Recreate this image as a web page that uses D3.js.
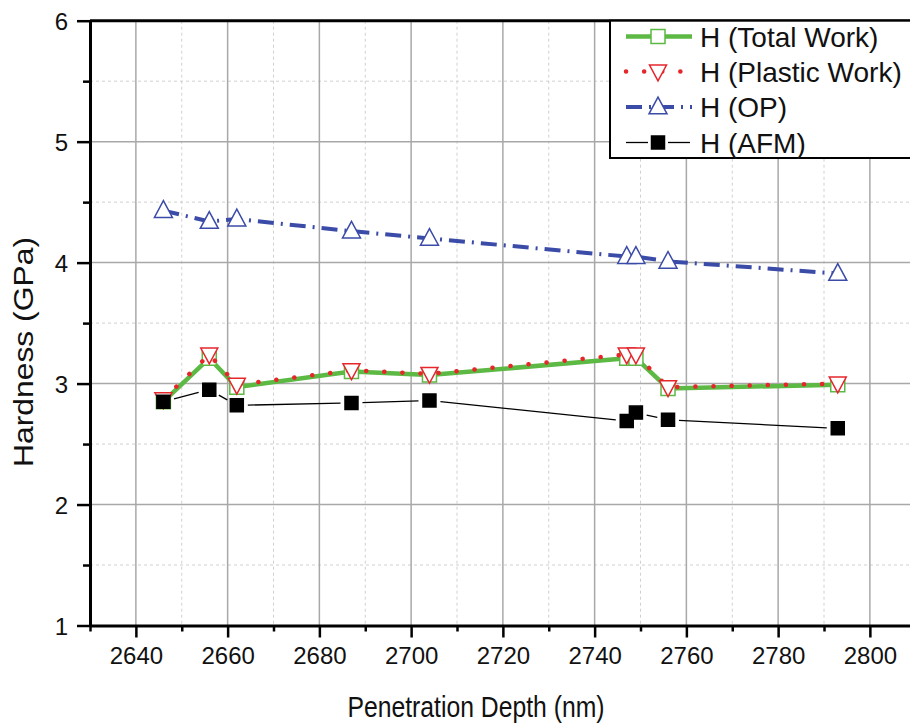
<!DOCTYPE html>
<html>
<head>
<meta charset="utf-8">
<script src="https://cdn.jsdelivr.net/npm/d3@7"></script>
<style>
  html, body { margin: 0; padding: 0; background: #fff; }
  svg { display: block; font-family: "Liberation Sans", Arial, sans-serif; }
</style>
</head>
<body>
<div id="chart"></div>
<script>
// data
const depth = [2646, 2656, 2662, 2687, 2704, 2747, 2749, 2756, 2793];
const hTotalWork = [2.85, 3.21, 2.97, 3.10, 3.07, 3.21, 3.21, 2.96, 2.99];
const hPlasticWork = [2.87, 3.24, 2.99, 3.11, 3.08, 3.24, 3.24, 2.97, 3.00];
const hOP = [4.43, 4.34, 4.36, 4.26, 4.20, 4.05, 4.05, 4.01, 3.91];
const hAFM = [2.85, 2.95, 2.82, 2.84, 2.86, 2.69, 2.76, 2.70, 2.63];

const xMajorTicks = [2640, 2660, 2680, 2700, 2720, 2740, 2760, 2780, 2800];
const xMinorTicks = [2630, 2650, 2670, 2690, 2710, 2730, 2750, 2770, 2790, 2810];
const yMajorTicks = [1, 2, 3, 4, 5, 6];
const yMinorTicks = [1.5, 2.5, 3.5, 4.5, 5.5];

const width = 910, height = 723;
const margin = { left: 90, top: 20.7, bottom: 97.5 };

const svg = d3.select('#chart')
  .append('svg')
  .attr('width', width)
  .attr('height', height);

// x axis runs a bit past the right edge (picture is cropped there)
const x = d3.scaleLinear()
  .domain([2630, 2810])
  .range([margin.left, margin.left + 180 * 4.5875]);

const y = d3.scaleLinear()
  .domain([1, 6])
  .range([height - margin.bottom, margin.top]);

const plotBottom = y(1), plotTop = y(6);

// grid
const grid = svg.append('g').attr('class', 'grid');
grid.selectAll('.gx-minor')
  .data(xMinorTicks)
  .enter().append('line')
  .attr('x1', d => x(d)).attr('x2', d => x(d))
  .attr('y1', plotTop).attr('y2', plotBottom)
  .attr('stroke', '#d0d0d0').attr('stroke-width', 1)
  .attr('stroke-dasharray', '3,3');
grid.selectAll('.gy-minor')
  .data(yMinorTicks)
  .enter().append('line')
  .attr('x1', margin.left).attr('x2', width)
  .attr('y1', d => y(d)).attr('y2', d => y(d))
  .attr('stroke', '#d0d0d0').attr('stroke-width', 1)
  .attr('stroke-dasharray', '3,3');
grid.selectAll('.gx-major')
  .data(xMajorTicks)
  .enter().append('line')
  .attr('x1', d => x(d)).attr('x2', d => x(d))
  .attr('y1', plotTop).attr('y2', plotBottom)
  .attr('stroke', '#a8a8a8').attr('stroke-width', 1.5);
grid.selectAll('.gy-major')
  .data(yMajorTicks.filter(d => d > 1 && d < 6))
  .enter().append('line')
  .attr('x1', margin.left).attr('x2', width)
  .attr('y1', d => y(d)).attr('y2', d => y(d))
  .attr('stroke', '#a8a8a8').attr('stroke-width', 1.5);

// top frame
svg.append('line')
  .attr('x1', margin.left).attr('x2', width)
  .attr('y1', plotTop).attr('y2', plotTop)
  .attr('stroke', '#000').attr('stroke-width', 3);

// axes
const xMinorAxis = d3.axisBottom(x).tickValues(xMinorTicks).tickSize(6).tickFormat('');
const xAxis = d3.axisBottom(x).tickValues(xMajorTicks).tickSize(12).tickPadding(9)
  .tickSizeOuter(0).tickFormat(d3.format('d'));
const yMinorAxis = d3.axisLeft(y).tickValues(yMinorTicks).tickSize(7).tickFormat('');
const yAxis = d3.axisLeft(y).tickValues(yMajorTicks).tickSize(13).tickPadding(9)
  .tickSizeOuter(0).tickFormat(d3.format('d'));

function styleAxis(g) {
  g.select('.domain').attr('stroke-width', 3);
  g.selectAll('.tick line').attr('stroke-width', 2.5);
  g.selectAll('.tick text')
    .attr('fill', '#111')
    .style('font-size', '24px')
    .style('font-family', '"Liberation Sans", Arial, sans-serif');
}

svg.append('g').attr('transform', `translate(0,${plotBottom})`).call(xMinorAxis).call(styleAxis)
  .select('.domain').remove();
svg.append('g').attr('transform', `translate(${margin.left},0)`).call(yMinorAxis).call(styleAxis)
  .select('.domain').remove();
svg.append('g').attr('transform', `translate(0,${plotBottom})`).call(xAxis).call(styleAxis);
svg.append('g').attr('transform', `translate(${margin.left},0)`).call(yAxis).call(styleAxis)
  .selectAll('.tick text').attr('dy', '0.36em');

// axis titles
svg.append('text')
  .attr('x', 476)
  .attr('y', 717)
  .attr('text-anchor', 'middle')
  .attr('textLength', 257)
  .attr('lengthAdjust', 'spacingAndGlyphs')
  .style('font-size', '30px')
  .attr('fill', '#111')
  .text('Penetration Depth (nm)');

svg.append('text')
  .attr('transform', `translate(33,${352}) rotate(-90)`)
  .attr('text-anchor', 'middle')
  .attr('textLength', 230)
  .attr('lengthAdjust', 'spacingAndGlyphs')
  .style('font-size', '27px')
  .attr('fill', '#111')
  .text('Hardness (GPa)');

// series
const colors = {
  total: '#5cb944',
  plastic: '#e5262b',
  op: '#3b4ba8',
  afm: '#000'
};

const pts = vals => depth.map((d, i) => [d, vals[i]]);
const line = d3.line().x(d => x(d[0])).y(d => y(d[1]));

const triUp = s => `M0,${-s * 0.55}L${s / 2},${s * 0.38}L${-s / 2},${s * 0.38}Z`;
const triDown = s => `M0,${s * 0.55}L${s / 2},${-s * 0.38}L${-s / 2},${-s * 0.38}Z`;
const square = s => `M${-s / 2},${-s / 2}H${s / 2}V${s / 2}H${-s / 2}Z`;

const plot = svg.append('g').attr('class', 'plot');

function drawSeries(vals, opt) {
  const g = plot.append('g');
  const data = pts(vals);
  if (opt.gap) {
    // Origin-style gaps between line and markers
    for (let i = 0; i < data.length - 1; i++) {
      const x0 = x(data[i][0]), y0 = y(data[i][1]);
      const x1 = x(data[i + 1][0]), y1 = y(data[i + 1][1]);
      const len = Math.hypot(x1 - x0, y1 - y0);
      if (len <= opt.gap * 2) continue;
      const ux = (x1 - x0) / len, uy = (y1 - y0) / len;
      g.append('line')
        .attr('x1', x0 + ux * opt.gap).attr('y1', y0 + uy * opt.gap)
        .attr('x2', x1 - ux * opt.gap).attr('y2', y1 - uy * opt.gap)
        .attr('stroke', opt.color).attr('stroke-width', opt.width);
    }
  } else {
    g.append('path')
      .attr('d', line(data))
      .attr('fill', 'none')
      .attr('stroke', opt.color)
      .attr('stroke-width', opt.width)
      .attr('stroke-linecap', opt.cap || 'butt')
      .attr('stroke-dasharray', opt.dash || null);
  }
  g.selectAll('.marker')
    .data(data)
    .enter().append('path')
    .attr('transform', d => `translate(${x(d[0])},${y(d[1])})`)
    .attr('d', opt.shape)
    .attr('fill', opt.fill)
    .attr('stroke', opt.color)
    .attr('stroke-width', 1.5);
}

const series = [
  { label: 'H (Total Work)', vals: hTotalWork, color: colors.total, width: 4.5, shape: square(14), fill: '#fff' },
  { label: 'H (Plastic Work)', vals: hPlasticWork, color: colors.plastic, width: 4.5, dash: '0.1,18', cap: 'round', shape: triDown(17), fill: '#fff' },
  { label: 'H (OP)', vals: hOP, color: colors.op, width: 4, dash: '16,7,2,7', shape: triUp(18), fill: '#fff' },
  { label: 'H (AFM)', vals: hAFM, color: colors.afm, width: 1.3, gap: 11, shape: square(13), fill: '#000' }
];

series.forEach(s => drawSeries(s.vals, s));

// legend
const legend = svg.append('g').attr('class', 'legend');
legend.append('rect')
  .attr('x', 610).attr('y', plotTop)
  .attr('width', 320).attr('height', 158 - plotTop)
  .attr('fill', '#fff')
  .attr('stroke', '#000').attr('stroke-width', 2);

const rowY = [36.5, 71.5, 107, 142.5];
series.forEach((s, i) => {
  const row = legend.append('g').attr('transform', `translate(0,${rowY[i]})`);
  if (s.gap) {
    row.append('line').attr('x1', 626).attr('x2', 648).attr('y1', 0).attr('y2', 0)
      .attr('stroke', s.color).attr('stroke-width', s.width);
    row.append('line').attr('x1', 668).attr('x2', 690).attr('y1', 0).attr('y2', 0)
      .attr('stroke', s.color).attr('stroke-width', s.width);
  } else {
    row.append('line').attr('x1', 626).attr('x2', 692).attr('y1', 0).attr('y2', 0)
      .attr('stroke', s.color).attr('stroke-width', s.width)
      .attr('stroke-linecap', s.cap || 'butt')
      .attr('stroke-dasharray', s.dash || null);
  }
  row.append('path')
    .attr('transform', 'translate(658,0)')
    .attr('d', s.shape)
    .attr('fill', s.fill)
    .attr('stroke', s.color)
    .attr('stroke-width', 1.5);
  row.append('text')
    .attr('x', 700)
    .attr('y', 0)
    .attr('dy', '0.36em')
    .style('font-size', '28px')
    .attr('fill', '#111')
    .text(s.label);
});
</script>
</body>
</html>
